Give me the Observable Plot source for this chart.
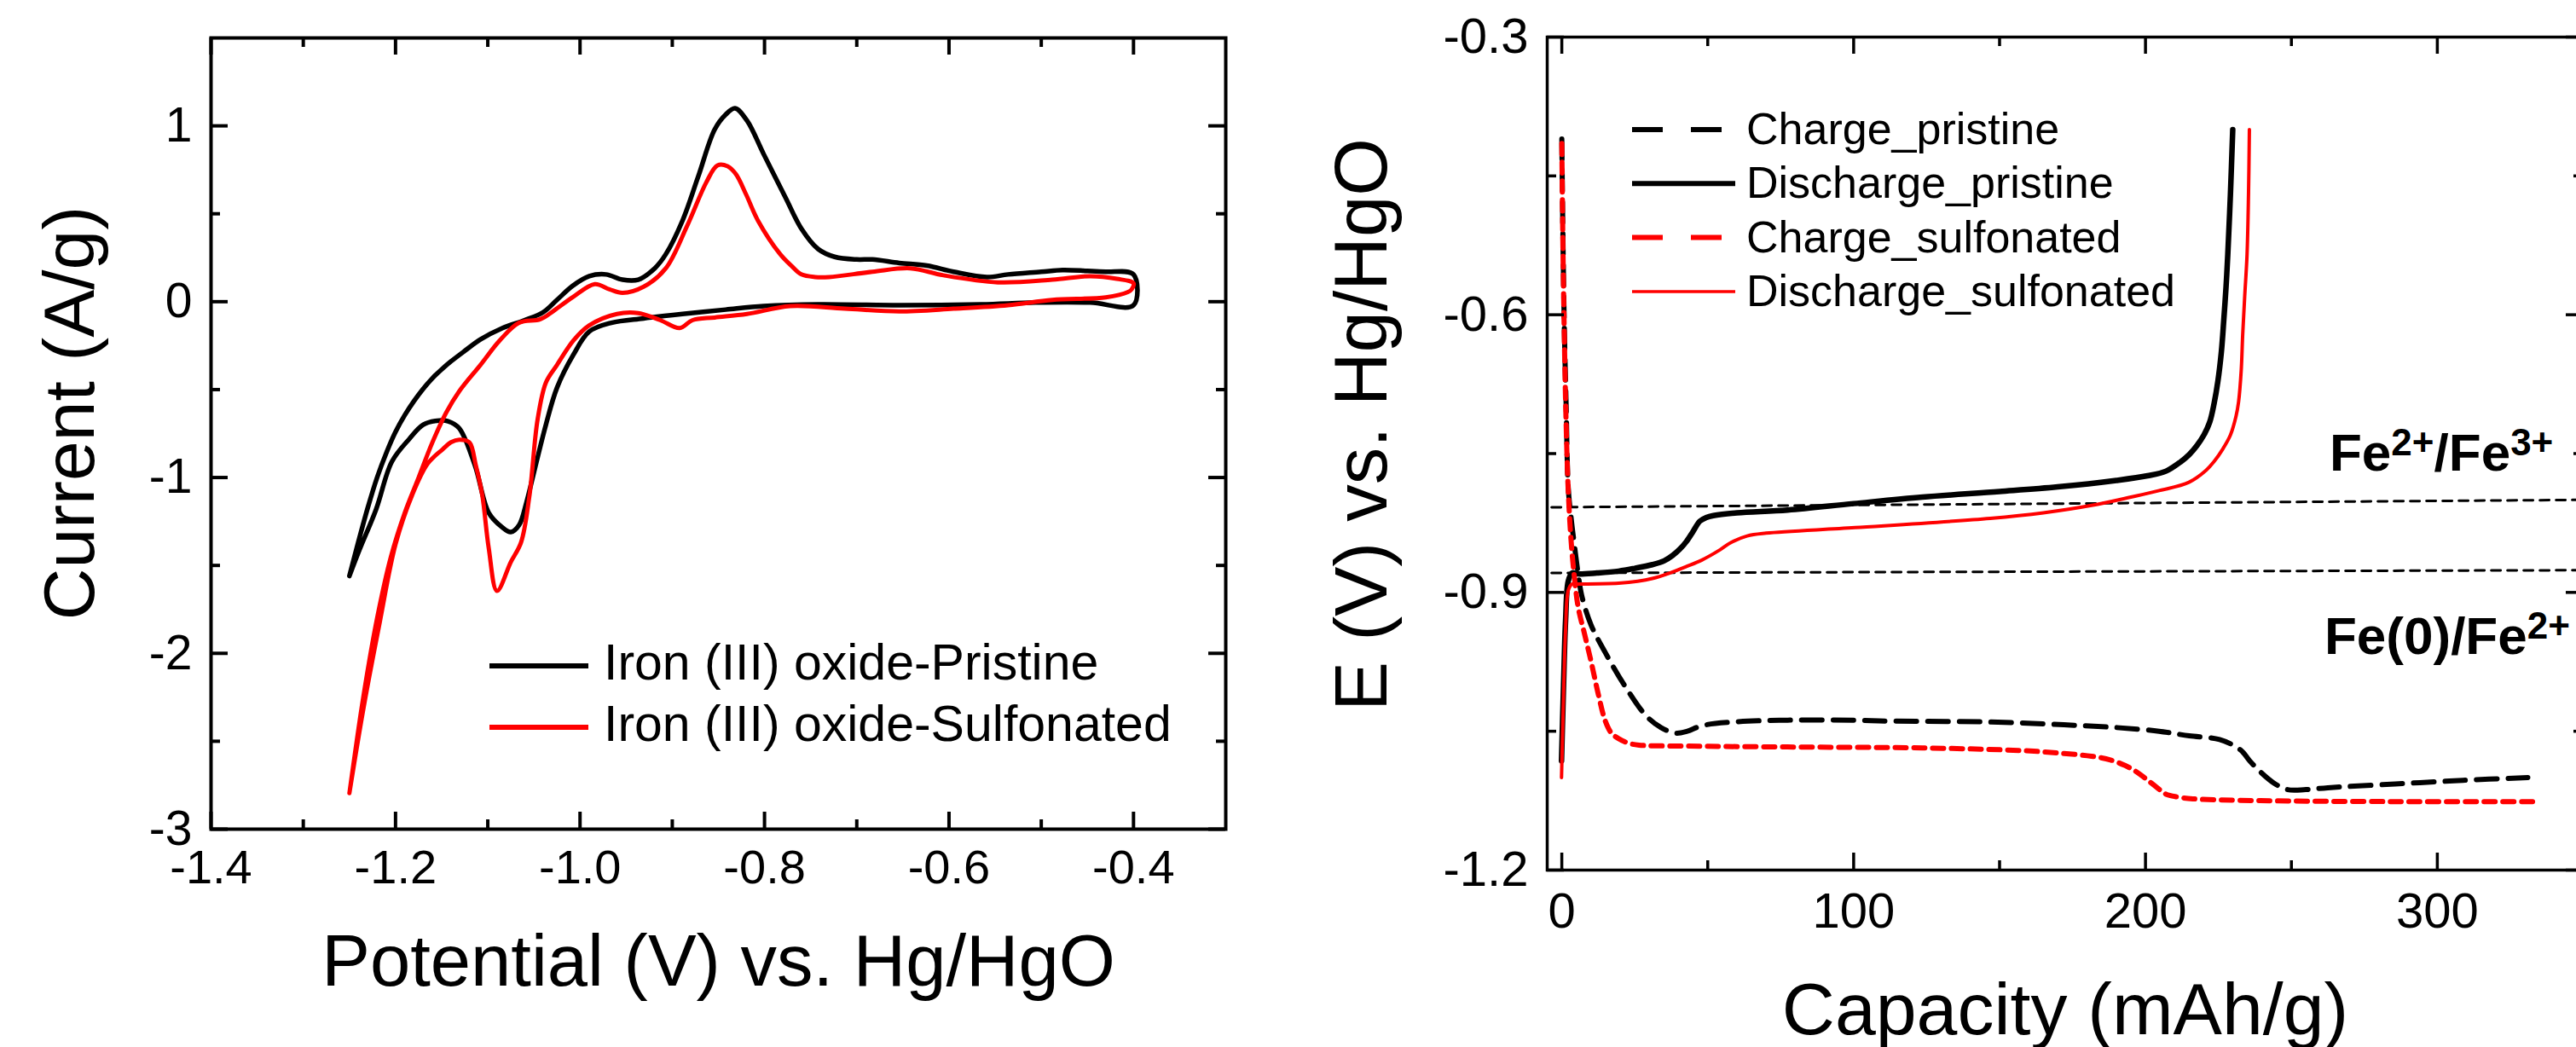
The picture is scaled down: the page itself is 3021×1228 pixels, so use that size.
<!DOCTYPE html>
<html><head><meta charset="utf-8">
<script src="https://cdn.jsdelivr.net/npm/d3@7"></script>
<script src="https://cdn.jsdelivr.net/npm/@observablehq/plot@0.6"></script>
<style>
html,body{margin:0;padding:0;background:#fff;overflow:hidden;}
#wrap{position:relative;width:3021px;height:1228px;overflow:hidden;background:#fff;}
#left{position:absolute;left:0;top:0;width:1500px;height:1228px;}
#right{position:absolute;left:1500px;top:0;width:1560px;height:1228px;}
</style></head><body><div id="wrap"><div id="left"></div><div id="right"></div></div>
<script>
// ---------------- DATA ----------------
// Left panel: cyclic voltammetry (Potential V vs Hg/HgO, Current A/g)
const cvXDomain = [-1.4, -0.3];
const cvYDomain = [-3, 1.5];
const cvXTicks = [-1.4, -1.2, -1.0, -0.8, -0.6, -0.4];
const cvXTickLabels = ["-1.4", "-1.2", "-1.0", "-0.8", "-0.6", "-0.4"];
const cvXMinor = [-1.3, -1.1, -0.9, -0.7, -0.5];
const cvYTicks = [-3, -2, -1, 0, 1];
const cvYTickLabels = ["-3", "-2", "-1", "0", "1"];
const cvYMinor = [-2.5, -1.5, -0.5, 0.5];
const cvSeriesNames = ["Iron (III) oxide-Pristine", "Iron (III) oxide-Sulfonated"];
const cvXTitle = "Potential (V) vs. Hg/HgO";
const cvYTitle = "Current (A/g)";

const cvPristine = [
  [-1.25,-1.56],[-1.24,-1.36],[-1.23,-1.17],[-1.22,-1.0],[-1.21,-0.86],[-1.2,-0.74],
  [-1.19,-0.645],[-1.18,-0.565],[-1.17,-0.495],[-1.16,-0.435],[-1.15,-0.385],[-1.14,-0.34],
  [-1.125,-0.28],[-1.108,-0.215],[-1.084,-0.15],[-1.060,-0.105],[-1.040,-0.06],
  [-1.025,0.01],[-1.008,0.09],[-0.990,0.145],[-0.972,0.155],[-0.954,0.125],[-0.937,0.125],
  [-0.919,0.19],[-0.907,0.27],[-0.889,0.46],[-0.872,0.71],[-0.854,0.98],[-0.842,1.065],
  [-0.832,1.10],[-0.819,1.03],[-0.801,0.84],[-0.777,0.59],[-0.760,0.415],[-0.742,0.30],
  [-0.724,0.255],[-0.70,0.24],[-0.683,0.24],[-0.654,0.22],[-0.624,0.205],[-0.595,0.17],
  [-0.559,0.14],[-0.536,0.155],[-0.50,0.17],[-0.477,0.18],[-0.45,0.175],[-0.43,0.17],
  [-0.40,0.155],[-0.40,-0.02],[-0.447,-0.005],[-0.506,-0.005],[-0.565,-0.015],[-0.654,-0.02],
  [-0.742,-0.015],[-0.801,-0.025],[-0.842,-0.045],[-0.889,-0.07],[-0.931,-0.095],[-0.966,-0.12],
  [-0.990,-0.17],[-1.007,-0.30],[-1.025,-0.49],[-1.037,-0.70],[-1.049,-0.95],[-1.058,-1.14],
  [-1.066,-1.27],[-1.075,-1.31],[-1.085,-1.28],[-1.099,-1.20],[-1.114,-0.93],[-1.131,-0.72],
  [-1.143,-0.68],[-1.155,-0.677],[-1.17,-0.70],[-1.185,-0.78],[-1.204,-0.91],[-1.221,-1.18],
  [-1.239,-1.41],[-1.25,-1.56]
];
const cvSulfonated = [
  [-1.25,-2.795],[-1.235,-2.25],[-1.22,-1.80],[-1.205,-1.45],[-1.19,-1.20],[-1.175,-1.00],
  [-1.16,-0.80],[-1.145,-0.63],[-1.131,-0.51],[-1.108,-0.36],[-1.087,-0.22],[-1.066,-0.12],
  [-1.043,-0.10],[-1.028,-0.05],[-1.008,0.025],[-0.984,0.10],[-0.968,0.07],[-0.954,0.05],
  [-0.931,0.085],[-0.907,0.19],[-0.884,0.43],[-0.863,0.68],[-0.851,0.775],[-0.84,0.77],
  [-0.831,0.725],[-0.82,0.61],[-0.807,0.46],[-0.783,0.27],[-0.770,0.20],[-0.760,0.155],
  [-0.745,0.14],[-0.730,0.14],[-0.683,0.17],[-0.642,0.19],[-0.606,0.15],[-0.547,0.11],
  [-0.488,0.125],[-0.447,0.145],[-0.418,0.13],[-0.400,0.105],[-0.402,0.07],[-0.406,0.055],
  [-0.430,0.025],[-0.488,0.01],[-0.536,-0.02],[-0.595,-0.04],[-0.654,-0.055],[-0.713,-0.04],
  [-0.772,-0.025],[-0.819,-0.07],[-0.854,-0.09],[-0.878,-0.105],[-0.892,-0.15],[-0.913,-0.105],
  [-0.937,-0.065],[-0.960,-0.07],[-0.990,-0.135],[-1.007,-0.22],[-1.025,-0.36],[-1.037,-0.46],
  [-1.046,-0.67],[-1.055,-1.11],[-1.064,-1.37],[-1.075,-1.48],[-1.090,-1.645],[-1.099,-1.40],
  [-1.106,-1.10],[-1.113,-0.93],[-1.120,-0.80],[-1.131,-0.785],[-1.140,-0.80],[-1.149,-0.84],
  [-1.165,-0.92],[-1.182,-1.10],[-1.20,-1.38],[-1.217,-1.82],[-1.235,-2.32],[-1.25,-2.795]
];

// Right panel: charge/discharge (Capacity mAh/g, E V vs Hg/HgO)
const gcdXDomain = [-5, 350];
const gcdYDomain = [-1.2, -0.3];
const gcdXTicks = [0, 100, 200, 300];
const gcdXTickLabels = ["0", "100", "200", "300"];
const gcdXMinor = [50, 150, 250];
const gcdYTicks = [-1.2, -0.9, -0.6, -0.3];
const gcdYTickLabels = ["-1.2", "-0.9", "-0.6", "-0.3"];
const gcdYMinor = [-1.05, -0.75, -0.45];
const gcdSeriesNames = ["Charge_pristine", "Discharge_pristine", "Charge_sulfonated", "Discharge_sulfonated"];
const gcdXTitle = "Capacity (mAh/g)";
const gcdYTitle = "E (V) vs. Hg/HgO";

const chargePristine = [
  [0,-0.41],[0.4,-0.52],[0.9,-0.62],[1.5,-0.70],[2.2,-0.787],[3.2,-0.82],[4.4,-0.851],
  [5.6,-0.88],[6.8,-0.903],[10,-0.935],[14.9,-0.965],[21.8,-1.002],[28.8,-1.033],[34,-1.046],
  [39,-1.052],[43,-1.050],[48,-1.044],[58.8,-1.040],[77.4,-1.038],[100,-1.038],[112,-1.039],
  [146.8,-1.040],[172,-1.043],[190,-1.046],[204.7,-1.050],[215,-1.055],[225.4,-1.059],
  [232.5,-1.070],[236,-1.083],[239.4,-1.094],[244,-1.106],[248.6,-1.113],[255,-1.113],
  [262.5,-1.111],[285.6,-1.107],[308.8,-1.103],[331,-1.100]
];
const dischargePristine = [
  [-0.1,-1.082],[0.6,-1.0],[1.3,-0.93],[2.2,-0.888],[3.5,-0.879],[5.6,-0.880],[12,-0.879],
  [19.5,-0.877],[25,-0.874],[31,-0.870],[35,-0.866],[38,-0.860],[40.5,-0.853],[42.7,-0.845],
  [45,-0.834],[47.3,-0.823],[49.5,-0.819],[51.9,-0.817],[60,-0.814],[77.4,-0.811],[100,-0.804],
  [123.6,-0.797],[150,-0.791],[169.9,-0.786],[190,-0.779],[200.7,-0.774],[207,-0.769],
  [212,-0.759],[215,-0.751],[217.7,-0.741],[220,-0.730],[222,-0.716],[223.5,-0.696],
  [224.8,-0.672],[226,-0.64],[226.8,-0.607],[227.6,-0.57],[228.2,-0.535],[229.1,-0.47],[229.9,-0.40]
];
const chargeSulfonated = [
  [0,-0.415],[0.4,-0.53],[0.9,-0.63],[1.5,-0.72],[2.2,-0.79],[3.2,-0.845],[4.2,-0.88],
  [5.6,-0.916],[7.8,-0.945],[10.2,-0.977],[12.5,-1.01],[14.9,-1.039],[17,-1.052],[19.5,-1.058],
  [23,-1.063],[26.5,-1.065],[42.7,-1.066],[77.4,-1.067],[123.6,-1.068],[158.4,-1.071],
  [172,-1.074],[181.5,-1.077],[188,-1.081],[193,-1.087],[197,-1.094],[200,-1.101],[204,-1.111],
  [207,-1.118],[211,-1.121],[216.2,-1.123],[239.4,-1.125],[285.6,-1.126],[333,-1.126]
];
const dischargeSulfonated = [
  [-0.1,-1.100],[0.6,-1.01],[1.3,-0.94],[2.2,-0.898],[3.5,-0.891],[5.6,-0.891],[19.5,-0.890],
  [26,-0.888],[31,-0.885],[37,-0.879],[42.7,-0.872],[48,-0.865],[54.2,-0.854],[58,-0.846],
  [63.5,-0.839],[70,-0.836],[100.5,-0.830],[146.8,-0.820],[165,-0.814],[181.5,-0.806],
  [195,-0.797],[204.7,-0.790],[214.9,-0.781],[220.8,-0.768],[223.4,-0.759],[226.5,-0.745],
  [229.1,-0.730],[231,-0.71],[231.9,-0.694],[232.8,-0.66],[233.3,-0.622],[234,-0.58],
  [234.8,-0.535],[235.3,-0.47],[235.6,-0.40]
];
// Reference redox potential guide lines
const refUpper = [[-3.5,-0.808],[350,-0.800]];
const refLower = [[-3.5,-0.879],[350,-0.876]];
const annotationUpper = [["Fe",0],["2+",1],["/Fe",0],["3+",1]];
const annotationLower = [["Fe(0)/Fe",0],["2+",1]];

// ---------------- DRAWING ----------------
const FONT = '"Liberation Sans", Arial, Helvetica, sans-serif';
const RED = "#ff0000";

// Left plot geometry
const LW = 1500, LH = 1228;
const LF = {left: 247, right: 1437, top: 44, bottom: 972};
const LFW = LF.right - LF.left, LFH = LF.bottom - LF.top;
const xy = {x: d => d[0], y: d => d[1]};

const leftPlot = Plot.plot({
  width: LW, height: LH,
  marginLeft: LF.left, marginRight: LW - LF.right, marginTop: LF.top, marginBottom: LH - LF.bottom,
  style: {fontFamily: FONT, background: "transparent", overflow: "visible", maxWidth: "none"},
  x: {domain: cvXDomain, axis: null},
  y: {domain: cvYDomain, axis: null},
  marks: [
    Plot.line(cvPristine, {...xy, stroke: "#000", strokeWidth: 5.5, curve: "catmull-rom"}),
    Plot.line(cvSulfonated, {...xy, stroke: RED, strokeWidth: 5, curve: "catmull-rom"}),
    // inward ticks
    Plot.ruleX(cvXTicks, {x: d => d, insetTop: LFH - 20, strokeWidth: 4}),
    Plot.ruleX(cvXMinor, {x: d => d, insetTop: LFH - 11, strokeWidth: 4}),
    Plot.ruleX(cvXTicks, {x: d => d, insetBottom: LFH - 20, strokeWidth: 4}),
    Plot.ruleX(cvXMinor, {x: d => d, insetBottom: LFH - 11, strokeWidth: 4}),
    Plot.ruleY(cvYTicks, {y: d => d, insetRight: LFW - 20, strokeWidth: 4}),
    Plot.ruleY(cvYMinor, {y: d => d, insetRight: LFW - 11, strokeWidth: 4}),
    Plot.ruleY(cvYTicks, {y: d => d, insetLeft: LFW - 20, strokeWidth: 4}),
    Plot.ruleY(cvYMinor, {y: d => d, insetLeft: LFW - 11, strokeWidth: 4}),
    Plot.frame({stroke: "#000", strokeWidth: 4}),
    // tick labels
    Plot.text(cvXTicks, {x: d => d, text: (d, i) => cvXTickLabels[i], frameAnchor: "bottom", lineAnchor: "middle", textAnchor: "middle", dy: 46, fontSize: 56}),
    Plot.text(cvYTicks, {y: d => d, text: (d, i) => cvYTickLabels[i], frameAnchor: "left", lineAnchor: "middle", dx: -22, textAnchor: "end", fontSize: 57}),
    // axis titles
    Plot.text([cvXTitle], {text: d => d, frameAnchor: "bottom", lineAnchor: "middle", textAnchor: "middle", dy: 156, fontSize: 85}),
    Plot.text([cvYTitle], {text: d => d, frameAnchor: "left", lineAnchor: "middle", textAnchor: "middle", rotate: -90, dx: -164, dy: -24, fontSize: 84})
  ]
});
document.getElementById("left").appendChild(leftPlot);

// Left legend
{
  const g = d3.select(leftPlot).append("g").attr("font-family", FONT).attr("font-size", 59).attr("text-anchor", "start");
  const colors = ["#000", RED];
  cvSeriesNames.forEach((name, i) => {
    const y = 781 + i * 72;
    g.append("line").attr("x1", 574).attr("x2", 690).attr("y1", y).attr("y2", y)
      .attr("stroke", colors[i]).attr("stroke-width", 6);
    g.append("text").attr("x", 708).attr("y", y + 16).attr("fill", "#000").attr("text-anchor", "start").text(name);
  });
}

// Right plot geometry
const RW = 1560, RH = 1228;
const RF = {left: 314, right: 1529, top: 43, bottom: 1020};
const RFW = RF.right - RF.left, RFH = RF.bottom - RF.top;

const rightPlot = Plot.plot({
  width: RW, height: RH,
  marginLeft: RF.left, marginRight: RW - RF.right, marginTop: RF.top, marginBottom: RH - RF.bottom,
  style: {fontFamily: FONT, background: "transparent", overflow: "visible", maxWidth: "none"},
  x: {domain: gcdXDomain, axis: null},
  y: {domain: gcdYDomain, axis: null},
  marks: [
    Plot.line(refUpper, {...xy, stroke: "#000", strokeWidth: 3, strokeDasharray: "11,8"}),
    Plot.line(refLower, {...xy, stroke: "#000", strokeWidth: 3, strokeDasharray: "11,8"}),
    Plot.line(chargePristine, {...xy, stroke: "#000", strokeWidth: 6, strokeDasharray: "24,13", curve: "catmull-rom"}),
    Plot.line(dischargePristine, {...xy, stroke: "#000", strokeWidth: 6.5, curve: "catmull-rom"}),
    Plot.line(chargeSulfonated, {...xy, stroke: RED, strokeWidth: 6, strokeDasharray: "13,9", curve: "catmull-rom"}),
    Plot.line(dischargeSulfonated, {...xy, stroke: RED, strokeWidth: 4, curve: "catmull-rom"}),
    // inward ticks
    Plot.ruleX(gcdXTicks, {x: d => d, insetTop: RFH - 20, strokeWidth: 3.5}),
    Plot.ruleX(gcdXMinor, {x: d => d, insetTop: RFH - 11, strokeWidth: 3.5}),
    Plot.ruleX(gcdXTicks, {x: d => d, insetBottom: RFH - 20, strokeWidth: 3.5}),
    Plot.ruleX(gcdXMinor, {x: d => d, insetBottom: RFH - 11, strokeWidth: 3.5}),
    Plot.ruleY(gcdYTicks, {y: d => d, insetRight: RFW - 20, strokeWidth: 3.5}),
    Plot.ruleY(gcdYMinor, {y: d => d, insetRight: RFW - 11, strokeWidth: 3.5}),
    Plot.ruleY(gcdYTicks, {y: d => d, insetLeft: RFW - 20, strokeWidth: 3.5}),
    Plot.ruleY(gcdYMinor, {y: d => d, insetLeft: RFW - 11, strokeWidth: 3.5}),
    Plot.frame({stroke: "#000", strokeWidth: 3.5}),
    // tick labels
    Plot.text(gcdXTicks, {x: d => d, text: (d, i) => gcdXTickLabels[i], frameAnchor: "bottom", lineAnchor: "middle", textAnchor: "middle", dy: 49, fontSize: 58}),
    Plot.text(gcdYTicks, {y: d => d, text: (d, i) => gcdYTickLabels[i], frameAnchor: "left", lineAnchor: "middle", dx: -22, textAnchor: "end", fontSize: 58}),
    // axis titles
    Plot.text([gcdXTitle], {text: d => d, frameAnchor: "bottom", lineAnchor: "middle", textAnchor: "middle", dy: 165, fontSize: 86}),
    Plot.text([gcdYTitle], {text: d => d, frameAnchor: "left", lineAnchor: "middle", textAnchor: "middle", rotate: -90, dx: -216, dy: -34, fontSize: 87})
  ]
});
document.getElementById("right").appendChild(rightPlot);

// Right legend + annotations
{
  const svg = d3.select(rightPlot);
  const g = svg.append("g").attr("font-family", FONT).attr("font-size", 52).attr("text-anchor", "start");
  const styles = [
    {stroke: "#000", dash: "36,33", w: 6},
    {stroke: "#000", dash: null, w: 6},
    {stroke: RED, dash: "36,33", w: 6},
    {stroke: RED, dash: null, w: 3.5}
  ];
  gcdSeriesNames.forEach((name, i) => {
    const y = 152 + i * 63.3;
    const s = styles[i];
    const ln = g.append("line").attr("x1", 414).attr("x2", 535).attr("y1", y).attr("y2", y)
      .attr("stroke", s.stroke).attr("stroke-width", s.w);
    if (s.dash) ln.attr("stroke-dasharray", s.dash);
    g.append("text").attr("x", 548).attr("y", y + 17).attr("fill", "#000").attr("text-anchor", "start").text(name);
  });
  const addAnn = (parts, x, y) => {
    const t = svg.append("text").attr("x", x).attr("y", y).attr("font-family", FONT)
      .attr("text-anchor", "start")
      .attr("font-weight", "bold").attr("font-size", 62).attr("fill", "#000");
    let sup = false;
    parts.forEach(([s, isSup]) => {
      const ts = t.append("tspan").text(s);
      if (isSup && !sup) { ts.attr("dy", -18).attr("font-size", 44); sup = true; }
      else if (isSup && sup) { ts.attr("font-size", 44); }
      else if (!isSup && sup) { ts.attr("dy", 18); sup = false; }
    });
  };
  addAnn(annotationUpper, 1232, 552);
  addAnn(annotationLower, 1226, 767);
}
</script></body></html>
